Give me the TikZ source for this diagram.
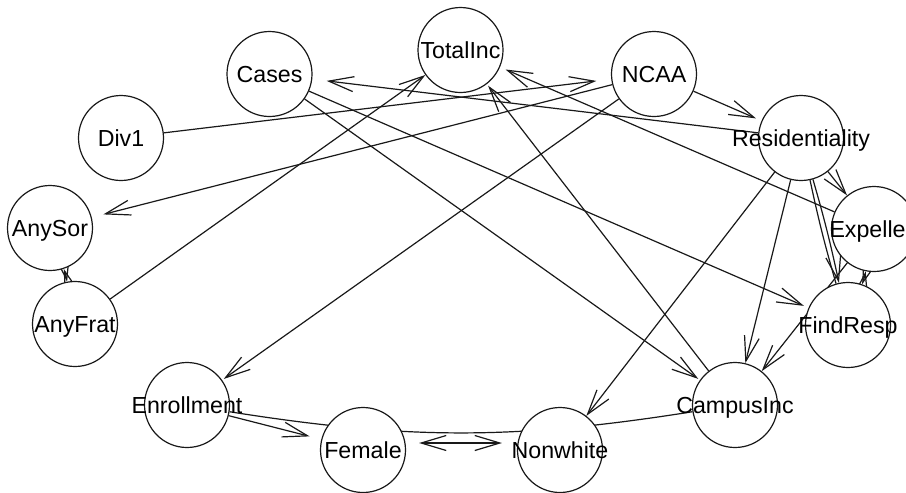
\documentclass[tikz,border=0pt]{standalone}
\usepackage{fontspec}
\setmainfont{Liberation Sans}
\usetikzlibrary{arrows.meta}
\pgfdeclarelayer{bg}
\pgfsetlayers{bg,main}
\begin{document}
\begin{tikzpicture}[x=0.5pt,y=-0.5pt,
  vtx/.style={circle,draw=black!90,fill=white,line width=0.6pt,minimum size=42.5pt,inner sep=0pt},
  lbl/.style={inner sep=0pt,text height=8.25pt,text depth=0pt,font=\fontsize{11.6}{13}\selectfont},
  conn/.style={draw=black!90,line width=0.6pt},
  arr/.style={conn,-{Straight Barb[length=12.5pt,width=7.5pt]}},
  barr/.style={conn,{Straight Barb[length=12.5pt,width=7.5pt]}-{Straight Barb[length=12.5pt,width=7.5pt]}},
]
\useasboundingbox (0,0) rectangle (906,493);
\clip (0,0) rectangle (906,493);

% vertices
\node[vtx] (cases)    at (269.5,74) {};
\node[vtx] (totalinc) at (460.5,50) {};
\node[vtx] (ncaa)     at (654,74) {};
\node[vtx] (div1)     at (121,138) {};
\node[vtx] (resid)    at (801,138) {};
\node[vtx] (anysor)   at (50,228) {};
\node[vtx] (expelled) at (874,229) {};
\node[vtx] (anyfrat)  at (75,324) {};
\node[vtx] (findresp) at (848,325) {};
\node[vtx] (enroll)   at (187,405) {};
\node[vtx] (campus)   at (735,405) {};
\node[vtx] (female)   at (363,450) {};
\node[vtx] (nonwhite) at (560,450) {};

% labels
\node[lbl] (cases-t)    at (cases)    {Cases};
\node[lbl] (totalinc-t) at (totalinc) {TotalInc};
\node[lbl] (ncaa-t)     at (ncaa)     {NCAA};
\node[lbl] (div1-t)     at (div1)     {Div1};
\node[lbl] (resid-t)    at (resid)    {Residentiality};
\node[lbl] (anysor-t)   at (anysor)   {AnySor};
\node[lbl] (expelled-t) at (expelled) {Expelled};
\node[lbl] (anyfrat-t)  at (anyfrat)  {AnyFrat};
\node[lbl] (findresp-t) at (findresp) {FindResp};
\node[lbl] (enroll-t)   at (enroll)   {Enrollment};
\node[lbl] (campus-t)   at (campus)   {CampusInc};
\node[lbl] (female-t)   at (female)   {Female};
\node[lbl] (nonwhite-t) at (nonwhite) {Nonwhite};

\begin{pgfonlayer}{bg}
\fill[white] (0,0) rectangle (906,493);
\draw[arr, shorten >=7.5pt] (div1) -- (ncaa);
\draw[arr, shorten >=7.25pt] (resid) -- (cases);
\draw[arr] (anyfrat) -- (totalinc);
\draw[arr, shorten >=6pt] (ncaa) -- (anysor);
\draw[arr, shorten >=1pt] (ncaa) -- (enroll);
\draw[arr, shorten >=3pt] (ncaa) -- (resid);
\draw[arr, shorten >=3pt] (expelled) -- (totalinc);
\draw[arr, shorten >=1pt] (campus) -- (totalinc);
\draw[arr, shorten >=1pt] (cases) -- (campus);
\draw[arr, shorten >=2.5pt] (cases) -- (findresp);
\draw[arr] (resid) -- (nonwhite);
\draw[arr] (resid) -- (campus);
\draw[arr] (resid) -- (expelled);
\draw[arr] (resid) to[bend left=2] (findresp);
\draw[conn] (resid) to[bend right=2] (findresp);
\draw[arr] (expelled) -- (campus);
\draw[barr] (expelled) to[bend left=4] (findresp);
\draw[barr] (anysor) to[bend left=4] (anyfrat);
\draw[arr, shorten >=6pt] (enroll) -- (female);
\draw[conn] (enroll) to[bend right=9] (campus);
\draw[barr, shorten <=6.5pt, shorten >=7.5pt, transform canvas={yshift=3.5pt}] (female) -- (nonwhite);
\end{pgfonlayer}
\end{tikzpicture}
\end{document}
